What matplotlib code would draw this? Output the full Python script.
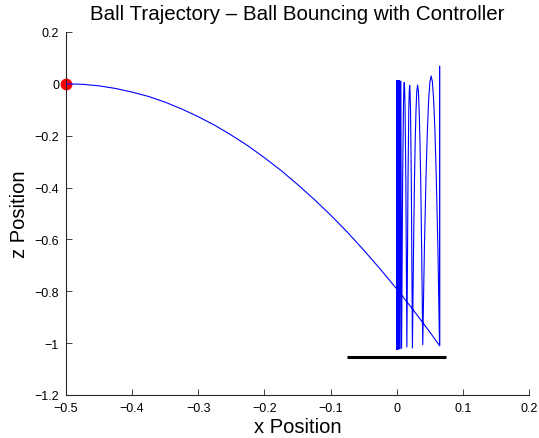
import matplotlib
matplotlib.use('Agg')
import matplotlib.pyplot as plt

# --- 配置 ---
W, H, DPI = 539, 439, 100
plt.rcParams['font.family'] = ['Liberation Sans', 'DejaVu Sans']

# --- 数据 ---
# 抛物线飞行段
flight_x = [-0.5, -0.475, -0.45, -0.425, -0.4, -0.375, -0.35, -0.325, -0.3, -0.275,
            -0.25, -0.225, -0.2, -0.175, -0.15, -0.125, -0.1, -0.075, -0.05, -0.025,
            0.0, 0.025, 0.05, 0.065]
flight_z = [0.0, -0.002, -0.008, -0.018, -0.032, -0.049, -0.071, -0.097, -0.127, -0.160,
            -0.198, -0.239, -0.285, -0.334, -0.388, -0.445, -0.506, -0.571, -0.641, -0.714,
            -0.791, -0.872, -0.957, -1.010]

# 反弹段
bounce_x = [0.0649, 0.0648,
            0.0623, 0.0597, 0.0578, 0.0559, 0.0540, 0.0521, 0.0502, 0.0483, 0.0464, 0.0445, 0.0419, 0.0394,
            0.0378, 0.0363, 0.0351, 0.0339, 0.0328, 0.0316, 0.0304, 0.0293, 0.0281, 0.0269, 0.0254, 0.0238,
            0.0221, 0.0209, 0.0202, 0.0196, 0.0190, 0.0183, 0.0171, 0.0154,
            0.0138, 0.0126, 0.0120, 0.0114, 0.0108, 0.0102, 0.0090, 0.0074,
            0.0063, 0.0052, 0.0044, 0.0036, 0.0030, 0.0025, 0.0021, 0.0017,
            0.0014, 0.0011, 0.0009, 0.0007, 0.0005, 0.0004, 0.0003, 0.0002]
bounce_z = [0.068, -1.010,
            -0.633, -0.343, -0.180, -0.063, 0.007, 0.030, 0.007, -0.063, -0.180, -0.343, -0.633, -1.006,
            -0.651, -0.369, -0.210, -0.096, -0.028, -0.005, -0.028, -0.096, -0.210, -0.369, -0.651, -1.019,
            -0.370, -0.097, -0.029, -0.006, -0.029, -0.097, -0.370, -1.015,
            -0.362, -0.087, -0.018, 0.005, -0.018, -0.087, -0.362, -1.020,
            0.010, -1.022, 0.012, -1.022, 0.013, -1.023, 0.013, -1.023,
            0.012, -1.024, 0.012, -1.024, 0.012, -1.024, 0.011, -1.024]

# 挡板（控制器）最终位置
paddle_x = [-0.075, 0.075]
paddle_z = [-1.053, -1.053]

# 初始位置
start_x = [-0.5]
start_z = [0.0]

x_ticks = [-0.5, -0.4, -0.3, -0.2, -0.1, 0.0, 0.1, 0.2]
x_tick_labels = ['\u22120.5', '\u22120.4', '\u22120.3', '\u22120.2', '\u22120.1', '0', '0.1', '0.2']
z_ticks = [-1.2, -1.0, -0.8, -0.6, -0.4, -0.2, 0.0, 0.2]
z_tick_labels = ['\u22121.2', '\u22121', '\u22120.8', '\u22120.6', '\u22120.4', '\u22120.2', '0', '0.2']

# --- 绘图 ---
fig = plt.figure(figsize=(W / DPI, H / DPI), dpi=DPI)
ax = fig.add_axes([0.1224, 0.098, 0.859, 0.827])

ax.plot(start_x, start_z, 'o', color='red', markersize=7.5, zorder=2, clip_on=False)
ax.plot(flight_x + bounce_x, flight_z + bounce_z, color='blue', linewidth=0.8, zorder=3)
ax.plot(paddle_x, paddle_z, color='black', linewidth=2.2, solid_capstyle='butt', zorder=3)

ax.set_xlim(-0.5, 0.2)
ax.set_ylim(-1.2, 0.2)
ax.set_xticks(x_ticks)
ax.set_xticklabels(x_tick_labels)
ax.set_yticks(z_ticks)
ax.set_yticklabels(z_tick_labels)

# MATLAB 风格：无上/右边框，刻度朝内
ax.spines['top'].set_visible(False)
ax.spines['right'].set_visible(False)
for s in ('left', 'bottom'):
    ax.spines[s].set_linewidth(0.8)
    ax.spines[s].set_color('#262626')
ax.tick_params(direction='in', length=4, width=0.6, labelsize=9, colors='#262626',
               labelcolor='black')
ax.tick_params(axis='x', pad=5)
ax.tick_params(axis='y', pad=5)

ax.set_title('Ball Trajectory \u2013 Ball Bouncing with Controller', fontsize=14.8, pad=9)
ax.set_xlabel('x Position', fontsize=14.5, labelpad=2)
ax.set_ylabel('z Position', fontsize=14.5, labelpad=4)

fig.savefig('out.png', dpi=DPI)
